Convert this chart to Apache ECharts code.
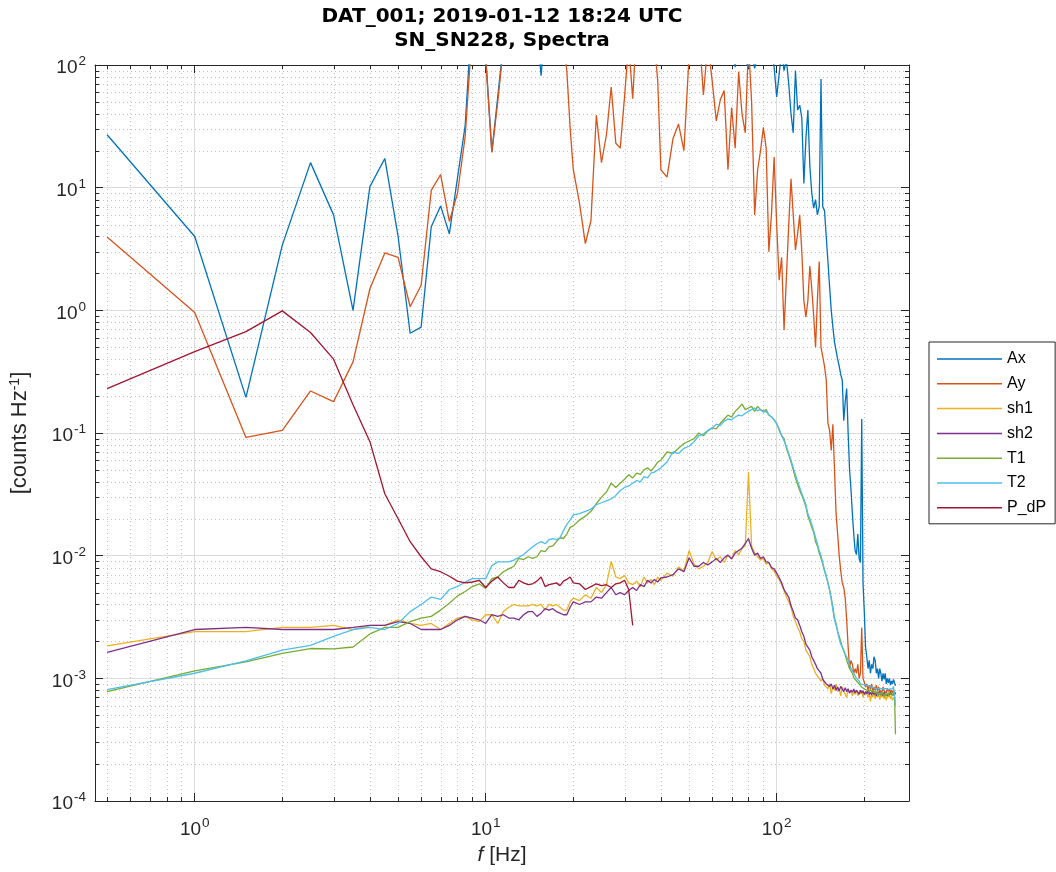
<!DOCTYPE html>
<html><head><meta charset="utf-8">
<script src="https://cdn.jsdelivr.net/npm/echarts@6/dist/echarts.min.js"></script>
<style>html,body{margin:0;padding:0;background:#fff}#c{width:1056px;height:872px}</style>
</head><body><div id="c"></div>
<script>
// Frequencies [Hz]
const freq = [0.5,1,1.5,2,2.5,3,3.5,4,4.5,5,5.5,6,6.5,7,7.5,8,8.5,9,9.5,10,
10.5,11,11.5,12,12.5,13,13.5,14,14.5,15,15.5,16,16.5,17,17.5,18,18.5,19,19.5,20,
21,22,23,24,25,26,27,28,29,30,31,32,33,34,35,36,37,38,39,40,
42,44,46,48,50,52,54,56,58,60,62,64,66,68,70,72,74,76,78,80,82,84,86,88,90,92,94,96,98,
100,102,104,106,108,110,112,114,116,118,120,122,124,126,128,130,132,134,136,138,
140,142,144,146,148,150,152,154,156,158,160,162,164,166,168,170,172,174,176,178,
180,182,184,186,188,190,192,194,196,198,200,202,204,206,208,210,212,214,216,218,
220,222,224,226,228,230,232,234,236,238,240,242,244,246,248,250,252,254,256];

const Ax = [27,4.0,0.195,3.4,16,6.0,1.0,10.2,17.3,4.0,
0.65,0.73,4.8,7.1,4.2,12,32,300,400,120,
19.5,55,150,400,600,500,700,400,300,200,
82,200,400,600,500,700,600,800,700,900,
800,1000,900,700,800,1000,900,1200,1000,800,900,700,600,800,900,700,800,600,700,900,
800,700,900,600,700,500,600,800,500,400,
600,500,300,400,200,96,200,150,110,95,
130,94,120,150,110,140,105,130,96,
55,85,130,90,110,70,40,28,90,43,
47,37,10.8,25,43,15,9,6.8,8,6,
7,77,7,6.5,4,2.5,1.55,1.0,0.73,0.55,
0.47,0.4,0.35,0.3,0.27,0.126,0.18,0.23,0.1,0.05,
0.035,0.022,0.015,0.011,0.0102,0.015,0.0095,0.0088,0.13,0.006,
0.0035,0.0018,0.0015,0.0012,0.0014,0.0011,0.0013,0.0012,0.0015,0.0014,
0.0011,0.0012,0.001,0.0012,0.0011,0.00095,0.0011,0.00098,0.0011,0.0009,
0.001,0.00092,0.001,0.00088,0.00095,0.0009,0.00098,0.00092,0.00087];

const Ay = [3.96,0.96,0.092,0.105,0.22,0.18,0.38,1.5,2.94,2.7,
1.07,1.6,9.5,12.8,5.3,9,26,200,300,110,
19.5,50,140,300,500,400,600,500,400,500,
300,400,600,500,400,300,150,90,31,14,
7.5,3.5,5.4,39,16,27,66,23,21,55,150,53,200,300,400,300,200,150,75,14,
12.2,25,33,20,120,300,200,57,150,75,
35,52,62,14,45,21,88,40,28,150,
50,6,14,20,31,21,3.0,6.2,17.8,
5,1.76,2.7,0.69,1.87,5,11.8,6,3.1,4.2,
6,3,1.2,0.88,1.2,2.3,1.5,0.9,0.5,1.2,
2.5,0.5,0.42,0.35,0.27,0.12,0.105,0.072,0.118,0.05,
0.022,0.015,0.01,0.0075,0.006,0.0055,0.0045,0.003,0.0018,0.0012,
0.0014,0.0013,0.0011,0.0012,0.0011,0.0013,0.001,0.0011,0.0026,0.001,
0.00093,0.00085,0.0009,0.0008,0.00088,0.00082,0.0009,0.00078,0.00085,0.0008,
0.00088,0.00078,0.00085,0.0008,0.00083,0.00077,0.00085,0.00079,0.00082,0.00076,
0.00083,0.00078,0.00082,0.00077,0.0008,0.00076,0.0008,0.00078,0.00075];

const sh1 = [0.00184,0.0024,0.0024,0.0026,0.0026,0.0027,0.0025,0.0027,0.0027,0.003,
0.0028,0.0027,0.0028,0.0025,0.0028,0.0031,0.0032,0.003,0.0029,0.0033,
0.0033,0.0028,0.0035,0.0038,0.004,0.0039,0.0039,0.0039,0.004,0.0039,
0.004,0.0036,0.004,0.0039,0.004,0.0038,0.0036,0.0036,0.0042,0.0045,
0.0043,0.0048,0.0045,0.0055,0.005,0.0058,0.009,0.0067,0.0065,0.0069,0.006,0.0058,0.0062,0.0056,0.0067,0.006,0.0064,0.0058,0.0067,0.0063,
0.0072,0.0068,0.0081,0.0075,0.011,0.0085,0.0078,0.0082,0.0088,0.0108,
0.0092,0.0098,0.0088,0.0101,0.0095,0.011,0.0102,0.0115,0.012,0.048,
0.012,0.0105,0.0098,0.0092,0.0095,0.0085,0.0088,0.0078,0.0075,
0.0068,0.0064,0.0058,0.0052,0.0046,0.0042,0.0038,0.0032,0.0029,0.0026,
0.0024,0.0021,0.002,0.0017,0.0016,0.0015,0.0013,0.0013,0.0011,0.0011,
0.001,0.00095,0.001,0.00088,0.0009,0.00082,0.0009,0.00075,0.00085,0.0008,
0.0009,0.00078,0.00082,0.00072,0.00085,0.00078,0.0008,0.0007,0.00082,0.00076,
0.0008,0.00072,0.00078,0.00074,0.0008,0.00072,0.00078,0.00075,0.0008,0.0007,
0.00076,0.00073,0.00078,0.0007,0.00076,0.00065,0.00074,0.0007,0.00076,0.00068,
0.00074,0.0007,0.00075,0.00067,0.00073,0.0007,0.00075,0.00068,0.00072,0.00066,
0.00073,0.0007,0.00074,0.00068,0.00072,0.00066,0.0007,0.00068,0.00065];

const sh2 = [0.00163,0.0025,0.0026,0.0025,0.0025,0.0025,0.0026,0.0027,0.0027,0.0029,
0.0028,0.0025,0.0025,0.0025,0.0027,0.003,0.0032,0.0031,0.003,0.0028,
0.0033,0.0032,0.0033,0.0031,0.0031,0.003,0.0033,0.0035,0.0035,0.0032,
0.0034,0.0037,0.0036,0.0037,0.0035,0.0034,0.0033,0.0033,0.0038,0.0042,
0.004,0.0042,0.0042,0.0046,0.0045,0.005,0.0055,0.0048,0.005,0.0048,0.0052,0.0055,0.0052,0.0058,0.0056,0.0063,0.006,0.0064,0.0061,0.0066,
0.0067,0.007,0.0078,0.0074,0.0096,0.0082,0.0082,0.0088,0.0084,0.0089,
0.0095,0.0088,0.0096,0.0101,0.0094,0.0105,0.011,0.0115,0.0126,0.0138,
0.0115,0.0101,0.0105,0.0095,0.0098,0.0089,0.0088,0.008,0.0078,
0.0072,0.0066,0.006,0.0053,0.0049,0.0046,0.0039,0.0035,0.0031,0.003,
0.0027,0.0024,0.0022,0.0019,0.0019,0.0017,0.0015,0.0014,0.0013,0.0012,
0.00115,0.0011,0.00098,0.001,0.0009,0.00092,0.00086,0.0009,0.00082,0.00088,
0.0008,0.00085,0.00079,0.00086,0.00082,0.00078,0.00084,0.00078,0.00082,0.00076,
0.0008,0.00077,0.00082,0.00076,0.0008,0.00078,0.00074,0.0008,0.00076,0.00079,
0.00074,0.00078,0.00075,0.0008,0.00074,0.00077,0.00073,0.00078,0.00074,0.00077,
0.00072,0.00076,0.00074,0.00078,0.00073,0.00076,0.00072,0.00077,0.00074,0.00076,
0.00072,0.00076,0.00073,0.00077,0.00074,0.00076,0.00073,0.00077,0.00074];

const T1 = [0.00078,0.00115,0.00136,0.0016,0.00175,0.00174,0.0018,0.0023,0.0026,0.0026,
0.0029,0.0031,0.0032,0.0036,0.0041,0.0047,0.0051,0.0056,0.0059,0.0054,
0.0065,0.0067,0.0074,0.0078,0.0082,0.0095,0.0093,0.0098,0.0095,0.0098,
0.011,0.0108,0.0118,0.012,0.013,0.014,0.0138,0.015,0.017,0.0175,
0.0195,0.021,0.023,0.0265,0.03,0.033,0.039,0.036,0.039,0.042,0.0457,0.043,0.047,0.046,0.05,0.052,0.049,0.053,0.058,0.06,
0.07,0.068,0.075,0.082,0.086,0.09,0.1,0.095,0.104,0.11,
0.108,0.12,0.13,0.14,0.135,0.15,0.16,0.172,0.155,0.16,
0.165,0.15,0.165,0.155,0.15,0.155,0.14,0.135,0.128,
0.12,0.105,0.095,0.09,0.075,0.066,0.058,0.05,0.043,0.038,
0.034,0.031,0.028,0.025,0.021,0.019,0.017,0.0155,0.013,0.012,
0.0105,0.0095,0.0085,0.0076,0.0068,0.006,0.0053,0.0045,0.0038,0.0031,
0.0028,0.0024,0.0022,0.002,0.0018,0.0017,0.00155,0.0014,0.0013,0.0012,
0.00115,0.0011,0.00102,0.001,0.00095,0.00092,0.0009,0.00087,0.00085,0.00088,
0.00082,0.00085,0.0008,0.00083,0.00078,0.00082,0.00077,0.0008,0.00076,0.00079,
0.00075,0.00078,0.00072,0.00076,0.00073,0.00077,0.00074,0.00071,0.00075,0.00072,
0.00076,0.00073,0.00077,0.00074,0.00076,0.00073,0.00078,0.00075,0.00035];

const T2 = [0.00081,0.0011,0.00139,0.0017,0.00186,0.0022,0.0025,0.0026,0.0025,0.0028,
0.0035,0.004,0.0046,0.0044,0.0053,0.0056,0.0061,0.0065,0.0065,0.0065,
0.0083,0.0089,0.0089,0.0089,0.0092,0.0097,0.0102,0.011,0.0118,0.0125,
0.013,0.0125,0.0135,0.0138,0.0135,0.014,0.016,0.018,0.0195,0.0215,
0.022,0.023,0.024,0.026,0.027,0.028,0.029,0.031,0.034,0.036,0.037,0.039,0.041,0.04,0.044,0.043,0.047,0.048,0.05,0.052,
0.058,0.07,0.068,0.075,0.078,0.085,0.095,0.098,0.105,0.11,
0.118,0.115,0.125,0.13,0.128,0.135,0.14,0.138,0.145,0.15,
0.155,0.16,0.152,0.155,0.148,0.15,0.14,0.135,0.128,
0.118,0.108,0.095,0.086,0.078,0.068,0.06,0.052,0.046,0.04,
0.036,0.032,0.029,0.026,0.022,0.02,0.018,0.016,0.014,0.0125,
0.011,0.01,0.0088,0.0075,0.0068,0.006,0.0052,0.0044,0.0036,0.003,
0.0027,0.0024,0.0021,0.0019,0.0018,0.00165,0.0016,0.0015,0.0014,0.0013,
0.0012,0.00115,0.0011,0.00105,0.001,0.00098,0.00095,0.0009,0.00093,0.00089,
0.00092,0.00088,0.0009,0.00087,0.0009,0.00085,0.00088,0.00084,0.00087,0.00083,
0.00086,0.00082,0.00085,0.00083,0.00086,0.00082,0.00085,0.00083,0.00086,0.00082,
0.00085,0.00081,0.00084,0.00082,0.00085,0.00082,0.00086,0.00083,0.0006];

// P_dP only recorded up to 32 Hz
const P_dP = [0.23,0.46,0.67,0.99,0.66,0.4,0.17,0.085,0.032,0.02,
0.013,0.0098,0.0078,0.0074,0.0068,0.0062,0.006,0.0061,0.0063,0.0055,
0.0062,0.0067,0.006,0.0055,0.0055,0.0063,0.006,0.0058,0.0059,0.0062,
0.0067,0.0056,0.0058,0.0059,0.006,0.0057,0.0062,0.0064,0.0067,0.006,
0.0059,0.0053,0.0056,0.0059,0.0057,0.0058,0.0055,0.0059,0.006,0.0063,0.0053,0.0027];

const seriesNames = ['Ax','Ay','sh1','sh2','T1','T2','P_dP'];
const seriesValues = [Ax, Ay, sh1, sh2, T1, T2, P_dP];
const seriesColors = ['#0072BD','#D95319','#EDB120','#7E2F8E','#77AC30','#4DBEEE','#A2142F'];

const xLim = [0.4543, 284.9];
const yLim = [1e-4, 100];
const xMinor = [0.5,0.6,0.7,0.8,0.9,2,3,4,5,6,7,8,9,20,30,40,50,60,70,80,90,200];
const yMinor = [];
for (let k = -4; k <= 1; k++) for (let m = 2; m <= 9; m++) yMinor.push(m * Math.pow(10, k));

const FONT = 'Liberation Sans';
const AX = '#262626';

function powLabel(v) {
  const e = Math.log10(v), r = Math.round(e);
  if (Math.abs(e - r) > 1e-6) return '';
  return '{b|10}{s|' + r + '}';
}
const labelRich = {
  b: {fontSize: 19, fontFamily: FONT, color: AX, verticalAlign: 'bottom', lineHeight: 25},
  s: {fontSize: 13.5, fontFamily: FONT, color: AX, verticalAlign: 'bottom', lineHeight: 25, padding: [0, 0, 9, 1]}
};

const chart = echarts.init(document.getElementById('c'), null, {renderer: 'canvas'});

const lineSeries = seriesNames.map((name, i) => {
  const vals = seriesValues[i];
  const data = [];
  for (let j = 0; j < vals.length; j++) data.push([freq[j], vals[j]]);
  return {
    name, type: 'line', data, xAxisIndex: 0, yAxisIndex: 0,
    symbol: 'none', showSymbol: false, color: seriesColors[i],
    lineStyle: {width: 1.3, color: seriesColors[i]}, itemStyle: {color: seriesColors[i]},
    clip: true, z: 3, animation: false, silent: true
  };
});

const xMinorSeries = {
  type: 'custom', xAxisIndex: 0, yAxisIndex: 0, z: 1, silent: true, animation: false,
  data: xMinor.map(v => [v, 1]),
  renderItem: (params, api) => {
    const cs = params.coordSys;
    const x = Math.round(api.coord([api.value(0), 1])[0]) + 0.5;
    const y0 = cs.y, y1 = cs.y + cs.height;
    return {type: 'group', children: [
      {type: 'line', shape: {x1: x, y1: y0, x2: x, y2: y1}, style: {stroke: '#c2c2c2', lineWidth: 1, lineDash: [1, 3]}},
      {type: 'line', shape: {x1: x, y1: y1, x2: x, y2: y1 - 4}, style: {stroke: AX, lineWidth: 1}},
      {type: 'line', shape: {x1: x, y1: y0, x2: x, y2: y0 + 4}, style: {stroke: AX, lineWidth: 1}}
    ]};
  }
};
const yMinorSeries = {
  type: 'custom', xAxisIndex: 0, yAxisIndex: 0, z: 1, silent: true, animation: false,
  data: yMinor.map(v => [1, v]),
  renderItem: (params, api) => {
    const cs = params.coordSys;
    const y = Math.round(api.coord([1, api.value(1)])[1]) + 0.5;
    const x0 = cs.x, x1 = cs.x + cs.width;
    return {type: 'group', children: [
      {type: 'line', shape: {x1: x0, y1: y, x2: x1, y2: y}, style: {stroke: '#c2c2c2', lineWidth: 1, lineDash: [1, 3]}},
      {type: 'line', shape: {x1: x0, y1: y, x2: x0 + 4, y2: y}, style: {stroke: AX, lineWidth: 1}},
      {type: 'line', shape: {x1: x1, y1: y, x2: x1 - 4, y2: y}, style: {stroke: AX, lineWidth: 1}}
    ]};
  }
};

const baseAxis = {
  type: 'log', logBase: 10,
  axisLine: {show: true, onZero: false, lineStyle: {color: AX, width: 1}},
  axisTick: {show: true, inside: true, length: 8, lineStyle: {color: AX, width: 1}},
  minorTick: {show: false}, minorSplitLine: {show: false}
};

chart.setOption({
  animation: false,
  backgroundColor: '#fff',
  textStyle: {fontFamily: FONT},
  title: {
    text: 'DAT_001; 2019-01-12 18:24 UTC\nSN_SN228, Spectra',
    left: 502, top: 5, textAlign: 'center', padding: 0,
    textStyle: {fontFamily: 'DejaVu Sans', fontWeight: 'bold', fontSize: 20, lineHeight: 24, color: '#000'}
  },
  grid: {left: 95, right: 147, top: 65, bottom: 71, containLabel: false},
  legend: {
    data: seriesNames, orient: 'vertical', left: 929, top: 342,
    icon: 'rect', itemWidth: 65, itemHeight: 1.5, itemGap: 6.8,
    padding: [8, 9, 7, 8], borderColor: AX, borderWidth: 1, backgroundColor: '#fff',
    selectedMode: false,
    textStyle: {fontSize: 16, fontFamily: FONT, color: '#000', lineHeight: 18, height: 18}
  },
  xAxis: [
    Object.assign({}, baseAxis, {
      position: 'bottom', min: xLim[0], max: xLim[1],
      axisLabel: {show: true, margin: 13, formatter: powLabel, rich: labelRich, showMinLabel: false, showMaxLabel: false},
      splitLine: {show: true, lineStyle: {color: '#dcdcdc', width: 1}},
      name: '{i|f} [Hz]', nameLocation: 'middle', nameGap: 44,
      nameTextStyle: {fontSize: 21, fontFamily: FONT, color: AX,
        rich: {i: {fontSize: 21, fontFamily: FONT, fontStyle: 'italic', color: AX}}}
    }),
    Object.assign({}, baseAxis, {
      position: 'top', min: xLim[0], max: xLim[1],
      axisLabel: {show: false}, splitLine: {show: false}
    })
  ],
  yAxis: [
    Object.assign({}, baseAxis, {
      position: 'left', min: yLim[0], max: yLim[1],
      axisLabel: {show: true, margin: 9, formatter: powLabel, rich: labelRich},
      splitLine: {show: true, lineStyle: {color: '#dcdcdc', width: 1}},
      name: '[counts Hz{s|-1}]', nameLocation: 'middle', nameGap: 63, nameRotate: 90,
      nameTextStyle: {fontSize: 22, fontFamily: FONT, color: AX, verticalAlign: 'bottom',
        rich: {s: {fontSize: 14, fontFamily: FONT, color: AX, verticalAlign: 'bottom', padding: [0, 0, 10, 0]}}}
    }),
    Object.assign({}, baseAxis, {
      position: 'right', min: yLim[0], max: yLim[1],
      axisLabel: {show: false}, splitLine: {show: false}
    })
  ],
  series: [xMinorSeries, yMinorSeries].concat(lineSeries)
});
</script>
</body></html>
